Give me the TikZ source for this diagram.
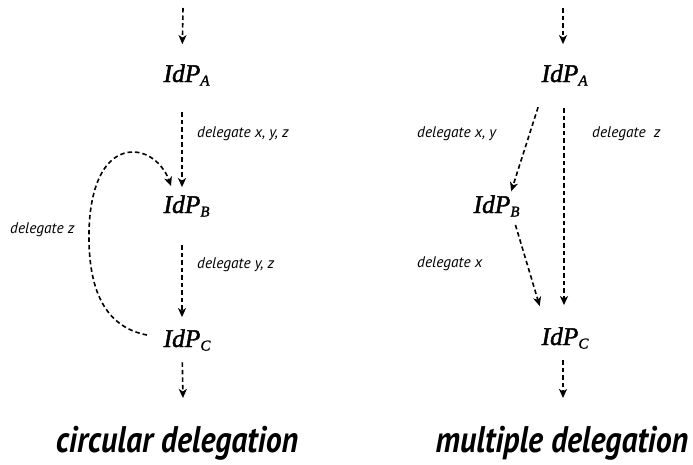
\documentclass[tikz,border=0pt]{standalone}
\usepackage{fontspec}
\setmainfont{Liberation Serif}
\newfontfamily\idpfont[FakeBold=1.6]{Liberation Serif}
\newfontfamily\lblfont{PT Sans}
\newfontfamily\ttlfont[FakeStretch=0.86]{PT Sans}
\usetikzlibrary{arrows.meta}
\newcommand{\idpx}[1]{IdP\rlap{\smash{\raisebox{-0.3ex}{\fontsize{15}{15}\selectfont #1}}}}
\tikzset{
  idp/.style={inner sep=0pt, anchor=base, font=\idpfont\fontsize{25.5}{26}\selectfont\itshape},
  lbl/.style={inner sep=0pt, anchor=base west, font=\lblfont\fontsize{15.4}{16}\selectfont\itshape},
  ttl/.style={inner sep=0pt, anchor=base, font=\ttlfont\fontsize{37}{37}\selectfont\bfseries\itshape},
  arr/.style={line width=1.6pt, dash pattern=on 4.5pt off 3pt, -{Stealth[length=9pt,width=8pt,inset=2.5pt]}},
}
\begin{document}
\begin{tikzpicture}[x=1pt,y=-1pt]
\useasboundingbox (0,0) rectangle (693,464);
% left
\node[idp] (la) at (182,82) {\idpx{A}};
\node[idp] (lb) at (182,213) {\idpx{B}};
\node[idp] (lc) at (182,347) {\idpx{C}};
\coordinate (lt) at (183,8);
\coordinate (lbt) at (183,398);
\draw[arr, shorten >=20pt] (lt) -- (la.north);
\draw[arr, shorten <=30pt, shorten >=8pt] (la.south) -- (lb.north);
\draw[arr, shorten <=32pt, shorten >=12pt] (lb.south) -- (lc.north);
\draw[arr, shorten <=15pt] (lc.south) -- (lbt);
\coordinate (cz) at (147,335);
\coordinate (czt) at (171,186);
\draw[arr] (cz) .. controls (105,327) and (88,290) .. (89,232)
  .. controls (90,180) and (108,152) .. (133,152)
  .. controls (150,152) and (164,166) .. (czt);
\node[lbl] at (197,137) {delegate x, y, z};
\node[lbl] at (197,268) {delegate y, z};
\node[lbl] at (10,233) {delegate z};
% right
\node[idp] (ra) at (560,82) {\idpx{A}};
\node[idp] (rb) at (492,213) {\idpx{B}};
\node[idp] (rc) at (560,345) {\idpx{C}};
\coordinate (rt) at (563,8);
\coordinate (rbt) at (563,398);
\draw[arr, shorten >=20pt] (rt) -- ([xshift=3pt]ra.north);
\draw[arr, shorten <=26pt, shorten >=4pt] ([xshift=-14pt]ra.south) -- ([xshift=18pt]rb.north);
\draw[arr, shorten <=26pt, shorten >=22pt] ([xshift=4pt]ra.south) -- ([xshift=4pt]rc.north);
\draw[arr, shorten <=12pt, shorten >=22pt] ([xshift=20pt]rb.south) -- ([xshift=-14pt]rc.north);
\draw[arr, shorten <=15pt] ([xshift=3pt]rc.south) -- (rbt);
\node[lbl] at (417,137) {delegate x, y};
\node[lbl] at (592,137) {delegate\ \ z};
\node[lbl] at (417,267) {delegate x};
% titles
\node[ttl] at (177,452) {circular delegation};
\node[ttl] at (562,452) {multiple delegation};
\end{tikzpicture}
\end{document}
